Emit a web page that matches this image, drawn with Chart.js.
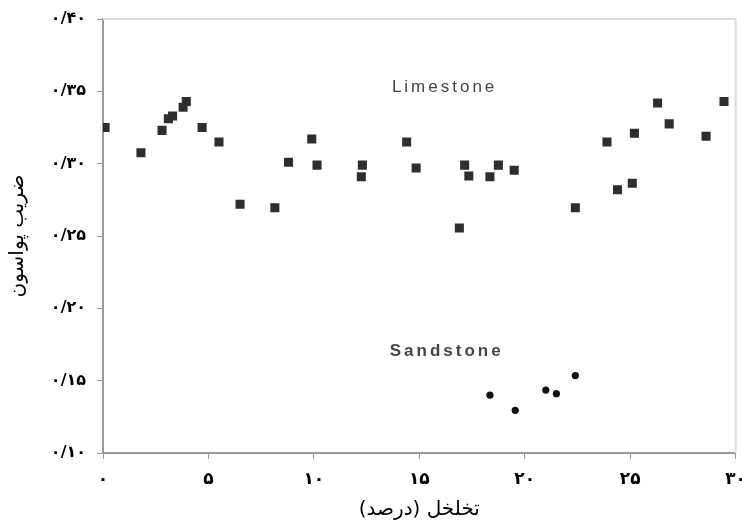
<!DOCTYPE html>
<html>
<head>
<meta charset="utf-8">
<script src="https://cdn.jsdelivr.net/npm/chart.js@4"></script>
<style>
  html, body { margin: 0; padding: 0; background: #fff; }
  #wrap { width: 742px; height: 527px; }
</style>
</head>
<body>
<div id="wrap"><canvas id="chart"></canvas></div>
<script>
// porosity (%) vs Poisson ratio
const limestoneX = [0.1, 1.8, 2.8, 3.1, 3.3, 3.8, 3.95, 4.7, 5.5, 6.5, 8.15, 8.8, 9.9, 10.15,
  12.3, 12.25, 14.4, 14.85, 17.15, 17.35, 16.9, 18.35, 18.75, 19.5,
  22.4, 23.9, 24.4, 25.1, 25.2, 26.3, 26.85, 28.6, 29.45];
const limestoneY = [0.325, 0.3075, 0.323, 0.331, 0.333, 0.339, 0.343, 0.325, 0.315, 0.272, 0.2695, 0.301, 0.317, 0.299,
  0.299, 0.291, 0.315, 0.297, 0.299, 0.2915, 0.2555, 0.291, 0.299, 0.2955,
  0.2695, 0.315, 0.282, 0.2865, 0.321, 0.342, 0.3275, 0.319, 0.343];
const sandstoneX = [18.35, 19.55, 21.0, 21.5, 22.4];
const sandstoneY = [0.140, 0.1295, 0.1435, 0.141, 0.1535];

const yTicks = [0.10, 0.15, 0.20, 0.25, 0.30, 0.35, 0.40];
const xTicks = [0, 5, 10, 15, 20, 25, 30];
const xTitle = 'تخلخل (درصد)';
const yTitle = 'ضریب پواسون';
const seriesLabels = [
  { text: 'Limestone', x: 16.2, y: 0.353, bold: false },
  { text: 'Sandstone', x: 16.3, y: 0.170, bold: true }
];

const faDigits = '۰۱۲۳۴۵۶۷۸۹';
const toFa = (s) => String(s).replace(/[0-9]/g, d => faDigits[+d]);
const fmtY = (v) => toFa(v.toFixed(2).replace('.', '/'));

const toPoints = (xs, ys) => xs.map((x, i) => ({ x, y: ys[i] }));

const framePlugin = {
  id: 'frame',
  beforeDatasetsDraw(chart) {
    const { ctx, chartArea: a } = chart;
    ctx.save();
    ctx.strokeStyle = '#dcdcdc';
    ctx.lineWidth = 2;
    ctx.beginPath();
    ctx.moveTo(a.left, a.top);
    ctx.lineTo(a.right, a.top);
    ctx.lineTo(a.right, a.bottom);
    ctx.stroke();
    ctx.restore();
  },
  afterDatasetsDraw(chart) {
    const { ctx, scales } = chart;
    ctx.save();
    ctx.fillStyle = '#454545';
    ctx.textAlign = 'center';
    ctx.textBaseline = 'middle';
    ctx.letterSpacing = '3px';
    seriesLabels.forEach(l => {
      ctx.font = (l.bold ? 'bold ' : '') + '17px "Liberation Sans", Arial, sans-serif';
      ctx.fillText(l.text, scales.x.getPixelForValue(l.x), scales.y.getPixelForValue(l.y));
    });
    ctx.restore();
  }
};

new Chart(document.getElementById('chart'), {
  type: 'scatter',
  data: {
    datasets: [
      {
        label: 'Limestone',
        data: toPoints(limestoneX, limestoneY),
        pointStyle: 'rect',
        pointRadius: 6.4,
        backgroundColor: '#2e2e2e',
        borderColor: '#2e2e2e',
        borderWidth: 0
      },
      {
        label: 'Sandstone',
        data: toPoints(sandstoneX, sandstoneY),
        pointStyle: 'circle',
        pointRadius: 3.6,
        backgroundColor: '#111',
        borderColor: '#111',
        borderWidth: 0
      }
    ]
  },
  options: {
    responsive: true,
    maintainAspectRatio: false,
    animation: false,
    layout: { padding: { top: 19, right: 3, left: 0, bottom: 0 } },
    plugins: { legend: { display: false }, tooltip: { enabled: false } },
    scales: {
      x: {
        type: 'linear', min: 0, max: 30,
        afterBuildTicks: (s) => { s.ticks = xTicks.map(v => ({ value: v })); },
        afterFit: (s) => { s.height = 74; s.paddingLeft = 0; s.paddingRight = 0; },
        border: { color: '#9a9a9a', width: 2 },
        grid: { display: true, drawOnChartArea: false, tickLength: 6, color: '#9a9a9a', lineWidth: 1 },
        ticks: {
          padding: 10, color: '#000', maxRotation: 0, autoSkip: false,
          font: { family: 'DejaVu Sans', size: 17, weight: 'bold' },
          callback: (v) => toFa(v)
        },
        title: {
          display: true, text: xTitle, color: '#000', padding: { top: 0, bottom: 5 },
          font: { family: 'DejaVu Sans', size: 20 }
        }
      },
      y: {
        type: 'linear', min: 0.10, max: 0.40,
        afterBuildTicks: (s) => { s.ticks = yTicks.map(v => ({ value: v })); },
        afterFit: (s) => { s.width = 103; s.paddingTop = 0; s.paddingBottom = 0; },
        border: { color: '#9a9a9a', width: 2 },
        grid: { display: true, drawOnChartArea: false, tickLength: 6, color: '#9a9a9a', lineWidth: 1 },
        ticks: {
          padding: 11, color: '#000', autoSkip: false,
          font: { family: 'DejaVu Sans', size: 16, weight: 'bold' },
          callback: (v) => fmtY(v)
        },
        title: {
          display: true, text: yTitle, color: '#000', padding: { top: 6, bottom: 2 },
          font: { family: 'DejaVu Sans', size: 20 }
        }
      }
    }
  },
  plugins: [framePlugin]
});
</script>
</body>
</html>
